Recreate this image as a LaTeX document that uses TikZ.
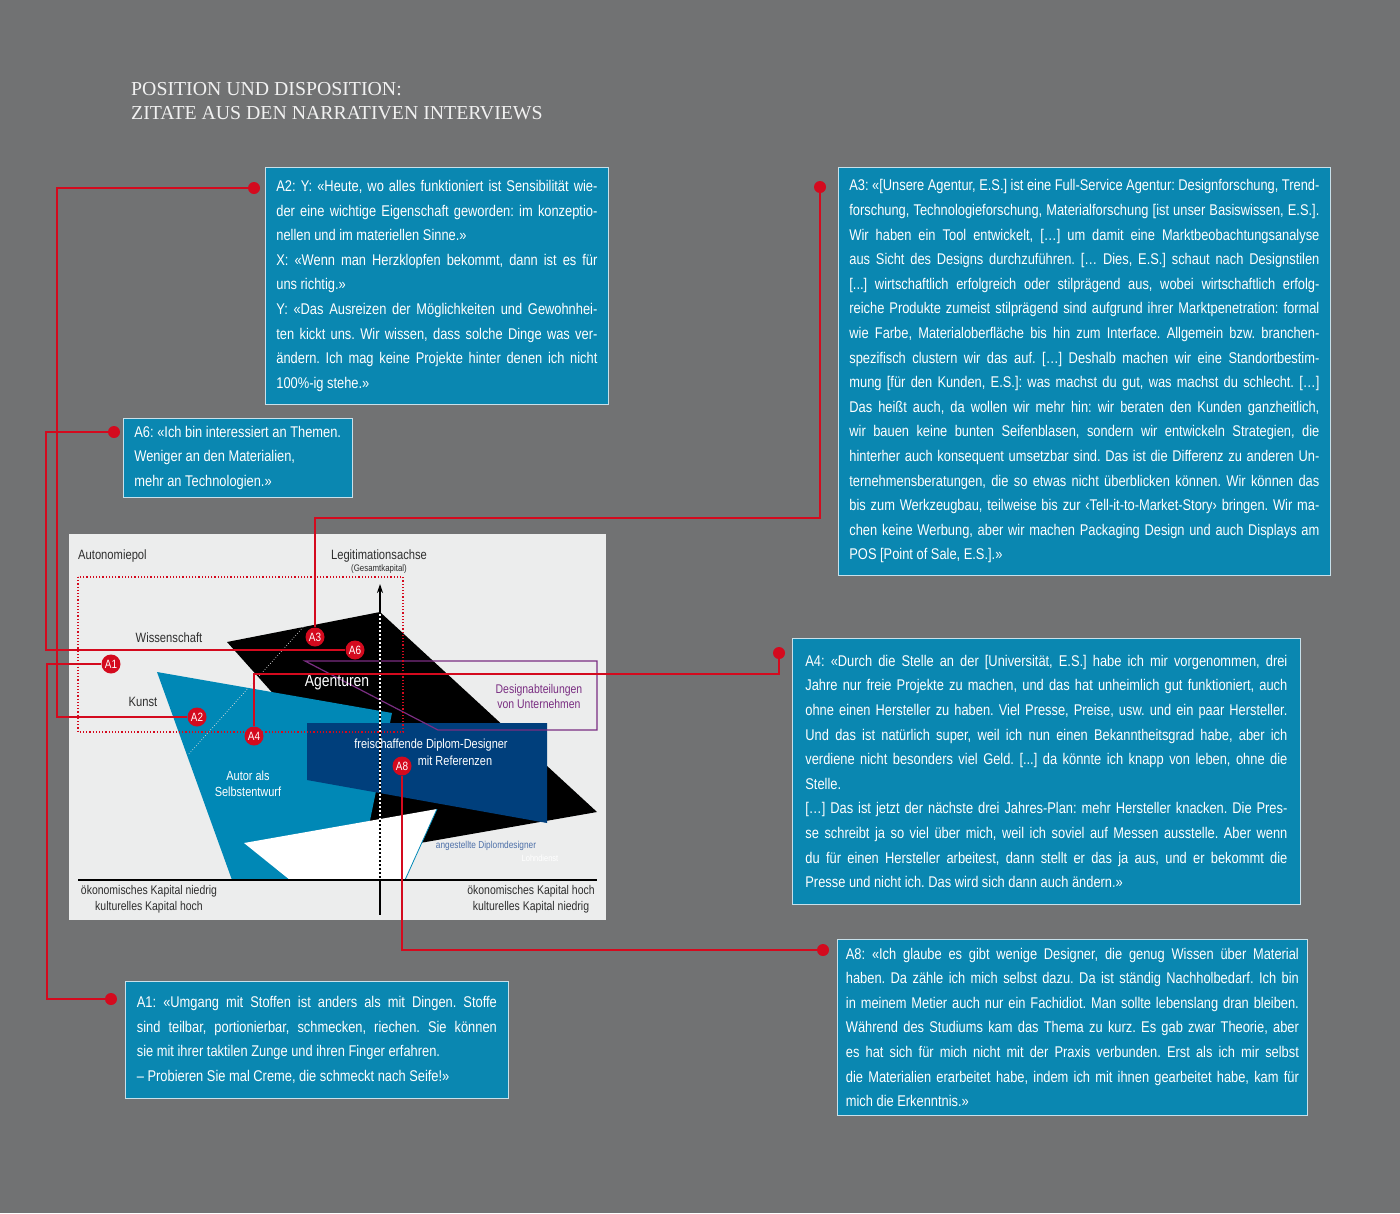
\documentclass[tikz,border=0pt]{standalone}
\usepackage{fontspec}
\usepackage{xcolor}
\usetikzlibrary{arrows.meta}
\setmainfont{Liberation Sans}
\newfontfamily\condfont{Liberation Sans}[FakeStretch=0.83]
\newfontfamily\titlefont{Liberation Serif}
\definecolor{bggray}{HTML}{717273}
\definecolor{panelgray}{HTML}{ECEDED}
\definecolor{quoteblue}{HTML}{0A87B1}
\definecolor{boxedge}{HTML}{C8E0EA}
\definecolor{shapeblue}{HTML}{0088B6}
\definecolor{darkblue}{HTML}{003F7C}
\definecolor{linkred}{HTML}{D40A1E}
\definecolor{deptpurple}{HTML}{7A2E82}
\definecolor{labelgray}{HTML}{2E2E2E}
\definecolor{staffblue}{HTML}{4C6FA8}
\newcommand\brk{\linebreak[4]}
\tolerance=10000
\hbadness=10000
\frenchspacing
\begin{document}
\begin{tikzpicture}[x=1pt,y=-1pt,
  quote/.style={draw=boxedge, line width=0.8pt, fill=quoteblue, text=white, anchor=north west,
    inner xsep=11pt, align=justify, font=\condfont\fontsize{15.5}{24.6}\selectfont},
  amark/.style={circle, fill=linkred, text=white, inner sep=0pt, minimum size=19pt,
    font=\condfont\fontsize{12}{12}\selectfont},
  adot/.style={circle, fill=linkred, inner sep=0pt, minimum size=12pt},
  link/.style={draw=linkred, line width=1.5pt},
  lbl/.style={text=labelgray, align=center, inner sep=0pt, font=\condfont\fontsize{13.5}{16}\selectfont}]
\useasboundingbox (0,0) rectangle (1400,1213);
\fill[bggray] (0,0) rectangle (1400,1213);

\node[anchor=north west, inner sep=0pt, align=left, text=white!90!bggray,
  font=\titlefont\fontsize{19.8}{24}\selectfont] (title) at (131,82)
  {POSITION UND DISPOSITION:\\ZITATE AUS DEN NARRATIVEN INTERVIEWS};

% Feld
\fill[panelgray] (69,534) rectangle (606,920);
\fill[black] (227,642) -- (380,612) -- (597,812) -- (380,850) -- (320,746) -- cycle;
\fill[shapeblue] (157,672) -- (392,713) -- (366,840) -- (290,880) -- (232,880) -- cycle;
\fill[white] (244,843) -- (437,809) -- (405,880) -- (290,880) -- cycle;
\draw[shapeblue, line width=0.8pt] (437,809) -- (405,880);
\fill[darkblue] (307,723) -- (547,723) -- (547,823) -- (307,780) -- cycle;
\draw[white!75!gray, dotted, line width=0.7pt] (305,625) -- (188,755);
\draw[deptpurple, line width=1.2pt] (305,661) -- (597,661) -- (597,730) -- (438,730) -- cycle;
\draw[line width=1.6pt] (78,880) -- (597,880);
\draw[line width=1.3pt] (380,880) -- (380,915);
\draw[line width=1.3pt, -{Stealth[length=9pt,width=6pt]}] (380,612) -- (380,584);
\draw[line width=1.6pt, dash pattern=on 2pt off 2pt] (380,612) -- (380,880);
\draw[white, line width=1.6pt, dash pattern=on 2pt off 2pt, dash phase=2pt] (380,612) -- (380,820);
\draw[linkred, dotted, line width=1.2pt] (78,577) rectangle (403,732);

\node[lbl, anchor=west] (pol) at (78,556) {Autonomiepol};
\node[lbl] (legit) at (379,556) {Legitimationsachse};
\node[lbl, font=\condfont\fontsize{9.5}{10}\selectfont] (gesamt) at (379,569) {(Gesamtkapital)};
\node[lbl] (wiss) at (169,638) {Wissenschaft};
\node[lbl] (kunst) at (143,702) {Kunst};
\node[lbl, text=white, font=\condfont\fontsize{16.8}{18}\selectfont] (agent) at (337,682) {Agenturen};
\node[lbl, text=deptpurple, font=\condfont\fontsize{12.6}{15}\selectfont] (dept) at (539,696)
  {Designabteilungen\\von Unternehmen};
\node[lbl, text=white, font=\condfont\fontsize{13.2}{16}\selectfont] (frei) at (431,745) {freischaffende Diplom-Designer};
\node[lbl, text=white, font=\condfont\fontsize{13.2}{16}\selectfont] (ref) at (455,761) {mit Referenzen};
\node[lbl, text=white, font=\condfont\fontsize{13.2}{16}\selectfont] (autor) at (248,784) {Autor als\\Selbstentwurf};
\node[lbl, text=staffblue, font=\condfont\fontsize{10}{12}\selectfont] (staff) at (486,846) {angestellte Diplomdesigner};
\node[lbl, text=white, font=\condfont\fontsize{9}{10}\selectfont] (lohn) at (540,858) {Lohndienst};
\node[lbl, font=\condfont\fontsize{12.6}{16}\selectfont] (lowleft) at (149,899)
  {ökonomisches Kapital niedrig\\kulturelles Kapital hoch};
\node[lbl, font=\condfont\fontsize{12.6}{16}\selectfont] (lowright) at (531,899)
  {ökonomisches Kapital hoch\\kulturelles Kapital niedrig};

% Marken
\node[amark] (m1) at (111,664) {A1};
\node[amark] (m2) at (197,717) {A2};
\node[amark] (m3) at (315,637) {A3};
\node[amark] (m4) at (254,736) {A4};
\node[amark] (m6) at (355,650) {A6};
\node[amark] (m8) at (402,766) {A8};

% Zitate
\node[quote, text width=321pt, minimum height=237pt] (q2) at (265,167)
{A2: Y: «Heute, wo alles funktioniert ist Sensibilität wie-\brk
der eine wichtige Eigenschaft geworden: im konzeptio-\brk
nellen und im materiellen Sinne.»\\
X: «Wenn man Herzklopfen bekommt, dann ist es für\brk
uns richtig.»\\
Y: «Das Ausreizen der Möglichkeiten und Gewohnhei-\brk
ten kickt uns. Wir wissen, dass solche Dinge was ver-\brk
ändern. Ich mag keine Projekte hinter denen ich nicht\brk
100\%-ig stehe.»};

\node[quote, align=left, minimum width=228pt, minimum height=79pt] (q6) at (123,418)
{A6: «Ich bin interessiert an Themen.\\
Weniger an den Materialien,\\
mehr an Technologien.»};

\node[quote, text width=470pt, minimum height=408pt] (q3) at (838,167)
{A3: «[Unsere Agentur, E.S.] ist eine Full-Service Agentur: Designforschung, Trend-\brk
forschung, Technologieforschung, Materialforschung [ist unser Basiswissen, E.S.].\brk
Wir haben ein Tool entwickelt, […] um damit eine Marktbeobachtungsanalyse\brk
aus Sicht des Designs durchzuführen. [… Dies, E.S.] schaut nach Designstilen\brk
[...] wirtschaftlich erfolgreich oder stilprägend aus, wobei wirtschaftlich erfolg-\brk
reiche Produkte zumeist stilprägend sind aufgrund ihrer Marktpenetration: formal\brk
wie Farbe, Materialoberfläche bis hin zum Interface. Allgemein bzw. branchen-\brk
spezifisch clustern wir das auf. […] Deshalb machen wir eine Standortbestim-\brk
mung [für den Kunden, E.S.]: was machst du gut, was machst du schlecht. […]\brk
Das heißt auch, da wollen wir mehr hin: wir beraten den Kunden ganzheitlich,\brk
wir bauen keine bunten Seifenblasen, sondern wir entwickeln Strategien, die\brk
hinterher auch konsequent umsetzbar sind. Das ist die Differenz zu anderen Un-\brk
ternehmensberatungen, die so etwas nicht überblicken können. Wir können das\brk
bis zum Werkzeugbau, teilweise bis zur ‹Tell-it-to-Market-Story› bringen. Wir ma-\brk
chen keine Werbung, aber wir machen Packaging Design und auch Displays am\brk
POS [Point of Sale, E.S.].»};

\node[quote, inner xsep=13pt, text width=482pt, minimum height=266pt] (q4) at (792,638)
{A4: «Durch die Stelle an der [Universität, E.S.] habe ich mir vorgenommen, drei\brk
Jahre nur freie Projekte zu machen, und das hat unheimlich gut funktioniert, auch\brk
ohne einen Hersteller zu haben. Viel Presse, Preise, usw. und ein paar Hersteller.\brk
Und das ist natürlich super, weil ich nun einen Bekanntheitsgrad habe, aber ich\brk
verdiene nicht besonders viel Geld. [...] da könnte ich knapp von leben, ohne die\brk
Stelle.\\{}
[…] Das ist jetzt der nächste drei Jahres-Plan: mehr Hersteller knacken. Die Pres-\brk
se schreibt ja so viel über mich, weil ich soviel auf Messen ausstelle. Aber wenn\brk
du für einen Hersteller arbeitest, dann stellt er das ja aus, und er bekommt die\brk
Presse und nicht ich. Das wird sich dann auch ändern.»};

\node[quote, inner xsep=8.5pt, text width=453pt, minimum height=176pt] (q8) at (837,939)
{A8: «Ich glaube es gibt wenige Designer, die genug Wissen über Material\brk
haben. Da zähle ich mich selbst dazu. Da ist ständig Nachholbedarf. Ich bin\brk
in meinem Metier auch nur ein Fachidiot. Man sollte lebenslang dran bleiben.\brk
Während des Studiums kam das Thema zu kurz. Es gab zwar Theorie, aber\brk
es hat sich für mich nicht mit der Praxis verbunden. Erst als ich mir selbst\brk
die Materialien erarbeitet habe, indem ich mit ihnen gearbeitet habe, kam für\brk
mich die Erkenntnis.»};

\node[quote, inner xsep=11.5pt, text width=360pt, minimum height=117pt] (q1) at (125,981)
{A1: «Umgang mit Stoffen ist anders als mit Dingen. Stoffe\brk
sind teilbar, portionierbar, schmecken, riechen. Sie können\brk
sie mit ihrer taktilen Zunge und ihren Finger erfahren.\\
– Probieren Sie mal Creme, die schmeckt nach Seife!»};

% Punkte und Verbindungen
\node[adot] (d2) at (254,188) {};
\node[adot] (d6) at (114,432) {};
\node[adot] (d3) at (820,187) {};
\node[adot] (d4) at (779,653) {};
\node[adot] (d8) at (823,950) {};
\node[adot] (d1) at (111,999) {};

\draw[link] (d2) -- ++(-197,0) |- (m2);
\draw[link] (d6) -- ++(-68,0) |- (m6);
\draw[link] (m1) -- ++(-64,0) |- (d1);
\draw[link] (d3) -- ++(0,331) -| (m3);
\draw[link] (d4) -- ++(0,21) -| (m4);
\draw[link] (m8) |- (d8);
\end{tikzpicture}
\end{document}
